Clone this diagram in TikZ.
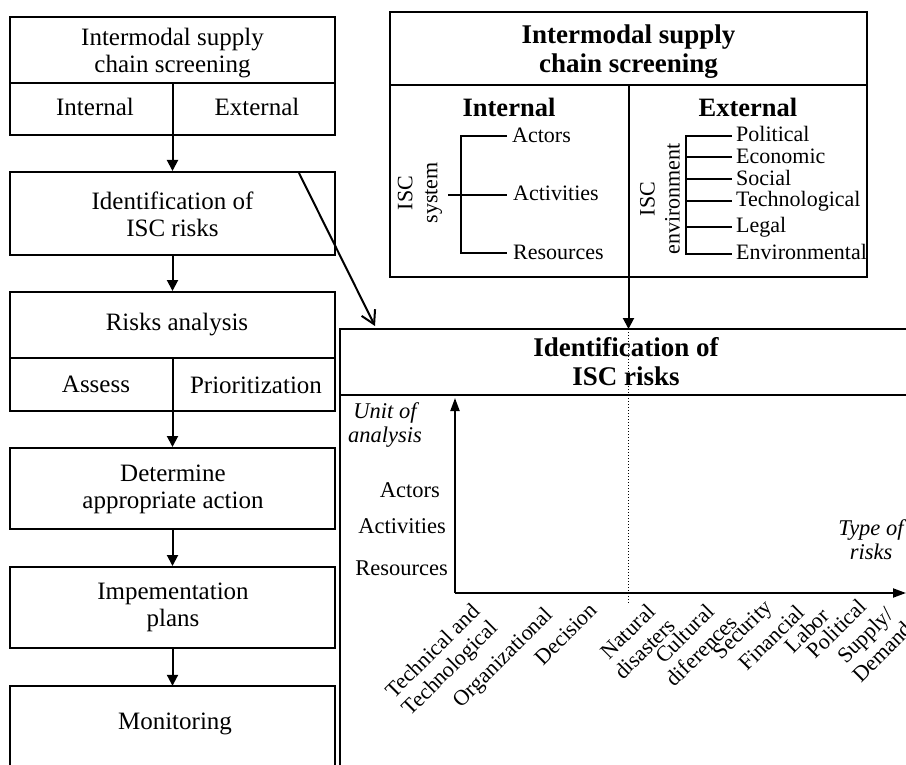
\documentclass[tikz,border=0pt]{standalone}
\usepackage{fontspec}
\setmainfont{Liberation Serif}
\usetikzlibrary{arrows.meta}
\begin{document}
\begin{tikzpicture}[x=1pt,y=-1pt,
  box/.style={draw, line width=2pt, inner sep=0, minimum width=325},
  lbl/.style={font=\fontsize{25}{27}\selectfont, align=center, inner sep=0},
  sm/.style={font=\fontsize{22}{24}\selectfont, inner sep=0},
  ax/.style={font=\fontsize{22.5}{24}\selectfont, inner sep=0},
  it/.style={font=\fontsize{22.5}{24}\selectfont\itshape, align=center, inner sep=0},
  bt/.style={font=\fontsize{27}{29}\selectfont\bfseries, align=center, inner sep=0},
  bh/.style={font=\fontsize{26.5}{28}\selectfont\bfseries, inner sep=0},
  rl/.style={font=\fontsize{22}{24}\selectfont, rotate=45, anchor=north east, align=center, inner sep=0},
  vl/.style={font=\fontsize{22}{25}\selectfont, rotate=90, align=center, inner sep=0},
  ln/.style={line width=2pt},
  flow/.style={line width=2pt, -{Triangle[length=11pt,width=11pt]}},
  axis/.style={line width=2pt, -{Triangle[length=13pt,width=9pt]}}
]
\useasboundingbox (0,0) rectangle (906,765);

% ---------- left column ----------
\node[box, minimum height=118] (b1) at (172.5,76) {};
\node[box, minimum height=83]  (b2) at (172.5,213.5) {};
\node[box, minimum height=119] (b3) at (172.5,351.5) {};
\node[box, minimum height=81]  (b4) at (172.5,488.5) {};
\node[box, minimum height=81]  (b5) at (172.5,607.5) {};
\node[inner sep=0, minimum width=325, minimum height=79] (b6) at (172.5,725.5) {};
\draw[ln] (b6.south west) -- (b6.north west) -- (b6.north east) -- (b6.south east);

\coordinate (h1) at (0,83);
\coordinate (h3) at (0,358);
\draw[ln] (b1.west |- h1) -- (b1.east |- h1) (b1.south |- h1) -- (b1.south);
\draw[ln] (b3.west |- h3) -- (b3.east |- h3) (b3.south |- h3) -- (b3.south);

\node[lbl] (t1) at (172.5,53) {Intermodal supply\\chain screening};
\node[lbl] (t1a) at (95,107) {Internal};
\node[lbl] (t1b) at (257,107) {External};
\node[lbl] (t2) at (172.5,214) {Identification of\\ISC risks};
\node[lbl] (t3) at (177,325) {Risks analysis};
\node[lbl] (t3a) at (96,384) {Assess};
\node[lbl] (t3b) at (256,385) {Prioritization};
\node[lbl] (t4) at (173,489) {Determine\\appropriate action};
\node[lbl] (t5) at (173,607) {Impementation\\plans};
\node[lbl] (t6) at (175,724) {Monitoring};

\draw[flow] (b1.south) -- (b2.north);
\draw[flow] (b2.south) -- (b3.north);
\draw[flow] (b3.south) -- (b4.north);
\draw[flow] (b4.south) -- (b5.north);
\draw[flow] (b5.south) -- (b6.north);

% diagonal arrow
\coordinate (ds) at (299,173);
\coordinate (de) at (375,326);
\draw[ln, -{Straight Barb[length=13pt,width=15pt]}] (ds) -- (de);

% ---------- top right box ----------
\node[box, minimum width=477, minimum height=265] (TR) at (628.5,144.5) {};
\coordinate (h2) at (0,85);
\draw[ln] (TR.west |- h2) -- (TR.east |- h2) (TR.south |- h2) -- (TR.south);
\node[bt] (trt) at (628.5,52) {Intermodal supply\\chain screening};
\node[bh] (tri) at (509,107) {Internal};
\node[bh] (tre) at (748,107) {External};

\node[vl] (isys) at (420,193) {ISC\\system};
\draw[ln] (507,136) -- (461,136) -- (461,253) -- (507,253) (448,195) -- (507,195);
\node[sm, anchor=base west] (ia) at (512,143) {Actors};
\node[sm, anchor=base west] (ib) at (513,201) {Activities};
\node[sm, anchor=base west] (ic) at (513,259) {Resources};

\node[vl] (ienv) at (660,199) {ISC\\environment};
\draw[ln] (732,136) -- (686,136) -- (686,254) -- (732,254);
\foreach \yy in {157,179,201,227} \draw[ln] (686,\yy) -- (732,\yy);
\node[sm, anchor=base west] (ea) at (736,142) {Political};
\node[sm, anchor=base west] (eb) at (736,164) {Economic};
\node[sm, anchor=base west] (ec) at (736,186) {Social};
\node[sm, anchor=base west] (ed) at (736,207) {Technological};
\node[sm, anchor=base west] (ee) at (736,233) {Legal};
\node[sm, anchor=base west] (ef) at (736,260) {Environmental};

% ---------- big right box ----------
\coordinate (Rtl) at (340,329);
\coordinate (Rtr) at (906,329);
\coordinate (Rbl) at (340,765);
\coordinate (Rhl) at (340,395);
\coordinate (Rhr) at (906,395);
\draw[ln] (Rtr) -- (Rtl) -- (Rbl);
\draw[ln] (Rhl) -- (Rhr);
\node[bt] (idt) at (626,362) {Identification of\\ISC risks};

\coordinate (Rtop) at (TR.south |- Rtl);
\draw[flow] (TR.south) -- (Rtop);
\coordinate (dotend) at (TR.south |- 0,604);
\draw[dotted, line width=1pt] (Rtop) -- (dotend);

% chart
\coordinate (O) at (455,593);
\coordinate (Yt) at (455,398);
\coordinate (Xt) at (906,593);
\draw[axis] (O) -- (Yt);
\draw[axis] (O) -- (Xt);

\node[it] (ua) at (385,425) {Unit of\\analysis};
\node[ax, anchor=base east] (ya) at (440,497) {Actors};
\node[ax, anchor=base east] (yb) at (446,533) {Activities};
\node[ax, anchor=base east] (yc) at (448,575) {Resources};
\node[it] (tr) at (871,540) {Type of\\risks};

\node[rl] (r1) at (471,601) {Technical and\\Technological};
\node[rl] (r2) at (543,605) {Organizational};
\node[rl] (r3) at (588,601) {Decision};
\node[rl] (r4) at (649,599) {Natural\\disasters};
\node[rl] (r5) at (711,596) {Cultural\\diferences};
\node[rl] (r6) at (763,598) {Security};
\node[rl] (r7) at (795,603) {Financial};
\node[rl] (r8) at (820,606) {Labor};
\node[rl] (r9) at (857,597) {Political};
\node[rl] (r10) at (886,603) {Supply/\\Demand};
\end{tikzpicture}
\end{document}
